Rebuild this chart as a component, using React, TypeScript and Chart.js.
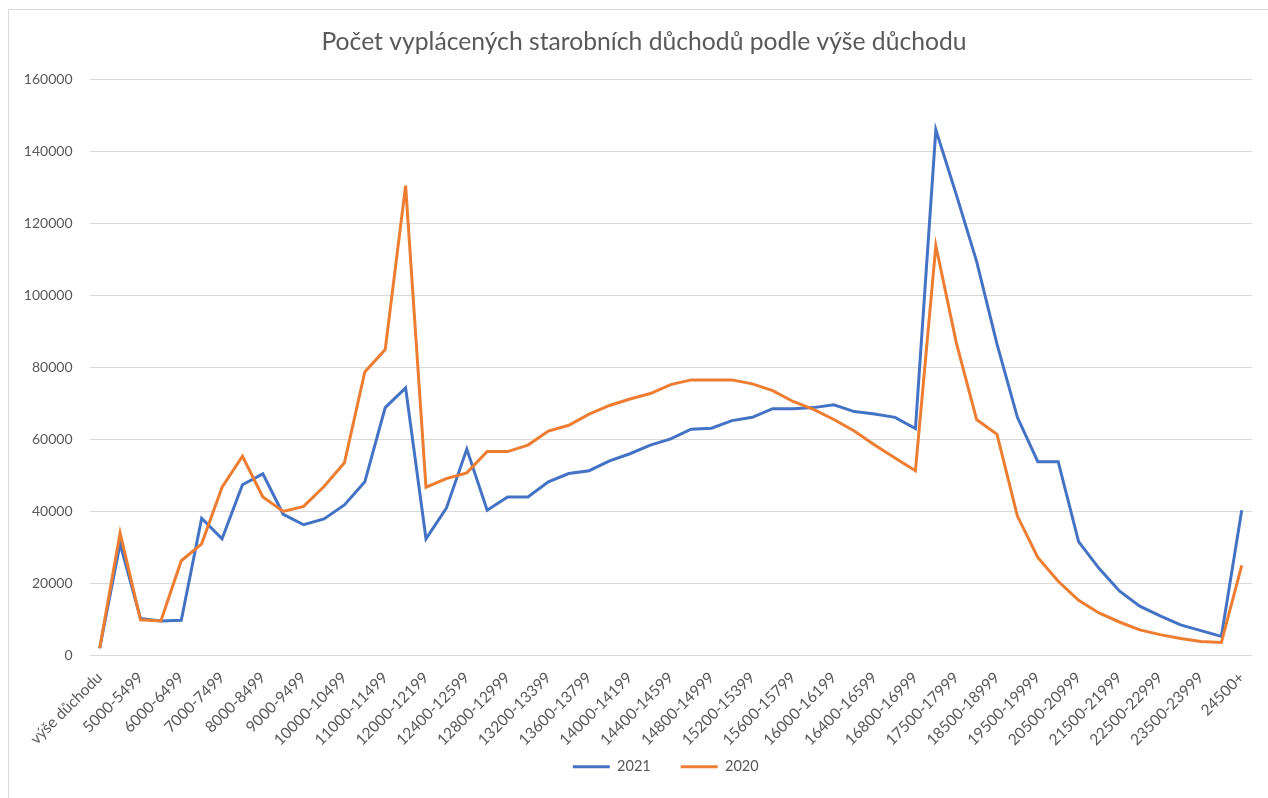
import React, { useEffect, useRef } from "react";
import { Chart, registerables } from "chart.js";

Chart.register(...registerables);

const categories: string[] = [
  "výše důchodu", "do 4999", "5000-5499", "5500-5999", "6000-6499", "6500-6999",
  "7000-7499", "7500-7999", "8000-8499", "8500-8999", "9000-9499", "9500-9999",
  "10000-10499", "10500-10999", "11000-11499", "11500-11999", "12000-12199", "12200-12399",
  "12400-12599", "12600-12799", "12800-12999", "13000-13199", "13200-13399", "13400-13599",
  "13600-13799", "13800-13999", "14000-14199", "14200-14399", "14400-14599", "14600-14799",
  "14800-14999", "15000-15199", "15200-15399", "15400-15599", "15600-15799", "15800-15999",
  "16000-16199", "16200-16399", "16400-16599", "16600-16799", "16800-16999", "17000-17499",
  "17500-17999", "18000-18499", "18500-18999", "19000-19499", "19500-19999", "20000-20499",
  "20500-20999", "21000-21499", "21500-21999", "22000-22499", "22500-22999", "23000-23499",
  "23500-23999", "24000-24499", "24500+",
];

const values2021: number[] = [
  2000, 31000, 10300, 9600, 9800, 38100, 32400, 47400, 50400, 39200, 36300, 37900,
  41800, 48200, 68800, 74300,
  32400, 40900, 57300, 40300, 44000, 44000, 48200, 50500, 51300, 54000, 56000, 58400,
  60100, 62800, 63100, 65200, 66100, 68500, 68500, 68800, 69600,
  67700, 67000, 66100, 63000, 145900, 128000, 109400, 86400, 66100, 53800, 53800,
  31600, 24200, 17900, 13700, 11000, 8500, 6900, 5300, 40300,
];

const values2020: number[] = [
  2000, 34000, 9900, 9600, 26300, 31000, 46700, 55300, 44000, 40000, 41400, 46900,
  53500, 78700, 84900, 130400,
  46700, 49100, 50700, 56600, 56600, 58400, 62300, 63900, 67000, 69400, 71200, 72700,
  75200, 76500, 76500, 76500, 75400, 73500, 70500, 68300, 65500,
  62300, 58400, 54800, 51300, 113800, 86900, 65500, 61400, 38700, 27200, 20600,
  15300, 11800, 9300, 7100, 5800, 4700, 3900, 3600, 25000,
];

const seriesNames: string[] = ["2021", "2020"];
const yTicksMax = 160000;
const yTicksStep = 20000;

const TITLE = "Počet vyplácených starobních důchodů podle výše důchodu";
const TEXT = "#595959";
const FONT = "Lato";

const nudgePlugin = {
  id: "nudge",
  afterLayout(chart: any) {
    if (chart.titleBlock) {
      chart.titleBlock.left = 32.5;
    }
    if (chart.legend) {
      chart.legend.left -= 5;
      chart.legend.right -= 5;
      chart.legend.top -= 21;
      chart.legend.bottom -= 21;
    }
  },
};

export default function App() {
  const ref = useRef<HTMLCanvasElement | null>(null);

  useEffect(() => {
    if (!ref.current) return;
    const chart = new Chart(ref.current, {
      type: "line",
      data: {
        labels: categories,
        datasets: [
          {
            label: seriesNames[0],
            data: values2021,
            borderColor: "#4472C4",
            backgroundColor: "#4472C4",
            borderWidth: 3,
            pointRadius: 0,
            tension: 0,
            order: 2,
          },
          {
            label: seriesNames[1],
            data: values2020,
            borderColor: "#ED7D31",
            backgroundColor: "#ED7D31",
            borderWidth: 3,
            pointRadius: 0,
            tension: 0,
            order: 1,
          },
        ],
      },
      plugins: [nudgePlugin],
      options: {
        animation: false,
        responsive: false,
        devicePixelRatio: 1,
        layout: { padding: { left: 0, right: 12.5, top: 0, bottom: -7 } },
        plugins: {
          tooltip: { enabled: false },
          title: {
            display: true,
            text: TITLE,
            color: TEXT,
            font: { family: FONT, size: 24.7, weight: "normal" },
            padding: { top: 27.2, bottom: 22.2 },
          },
          legend: {
            display: true,
            position: "bottom",
            fullSize: false,
            labels: {
              color: TEXT,
              font: { family: FONT, size: 14.5 },
              boxWidth: 37,
              boxHeight: 3,
              padding: 30,
              sort: (a: any, b: any) => a.datasetIndex - b.datasetIndex,
              generateLabels: (c: any) => {
                const items = (Chart.defaults.plugins.legend.labels as any).generateLabels(c);
                items.forEach((it: any) => {
                  it.lineWidth = 0;
                  it.fillStyle = it.strokeStyle;
                });
                return items;
              },
            },
          },
        },
        scales: {
          x: {
            offset: true,
            grid: { display: false, drawTicks: false },
            border: { display: false },
            ticks: {
              autoSkip: false,
              minRotation: 45,
              maxRotation: 45,
              padding: 13,
              color: TEXT,
              font: { family: FONT, size: 15.5 },
              callback: (_v: any, i: number) => (i % 2 === 0 ? categories[i] : ""),
            },
            afterFit: (s: any) => {
              s.height = 95;
            },
          },
          y: {
            min: 0,
            max: yTicksMax,
            grid: { color: "#d9d9d9", lineWidth: 1, drawTicks: false },
            border: { display: false },
            ticks: {
              stepSize: yTicksStep,
              padding: 17,
              color: TEXT,
              font: { family: FONT, size: 14 },
              callback: (v: any) => String(v),
            },
            afterFit: (s: any) => {
              s.width = 89.5;
            },
          },
        },
      },
    });
    return () => chart.destroy();
  }, []);

  return (
    <div style={{ position: "relative", width: 1268, height: 798, overflow: "hidden", background: "#fff" }}>
      <style>{`html,body{margin:0;padding:0;overflow:hidden;background:#fff}`}</style>
      <div
        style={{
          position: "absolute",
          left: 8,
          top: 9,
          width: 1300,
          height: 850,
          border: "1px solid #d9d9d9",
          boxSizing: "border-box",
        }}
      />
      <canvas ref={ref} width={1268} height={798} style={{ position: "absolute", left: 0, top: 0, width: 1268, height: 798 }} />
    </div>
  );
}
